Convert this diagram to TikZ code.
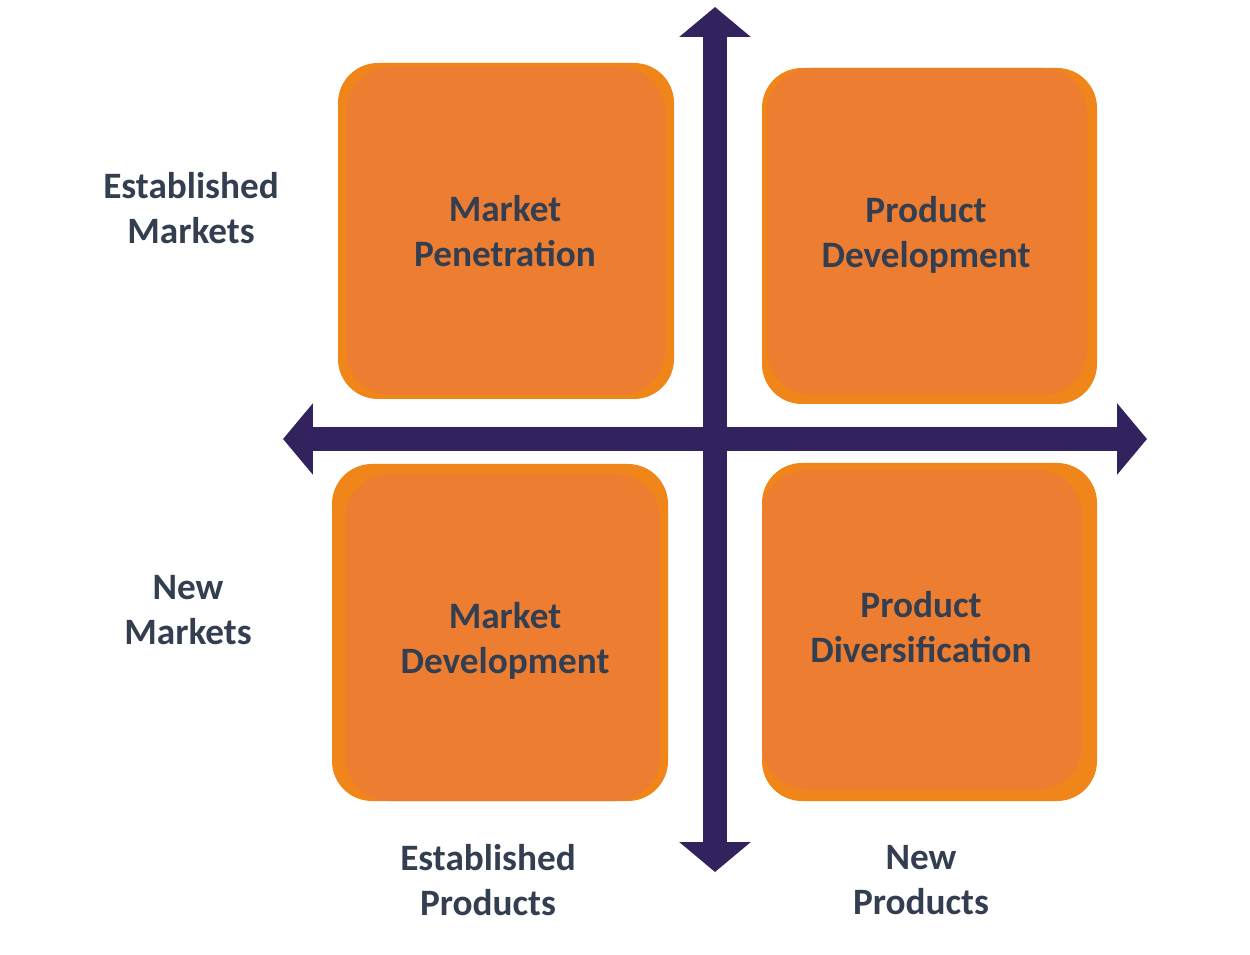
\documentclass[tikz,border=0pt]{standalone}
\usepackage{fontspec}
\setmainfont{Carlito}
\usepackage{tikz}
\usetikzlibrary{arrows.meta}
\definecolor{axisnavy}{RGB}{50,34,94}
\definecolor{rimorange}{RGB}{240,133,25}
\definecolor{fillorange}{RGB}{237,125,49}
\definecolor{labelslate}{RGB}{51,63,80}
\newcommand{\quadrant}[8]{
	\fill[rimorange, rounded corners=0.8cm] (#1,#2) rectangle (#3,#4);
	\fill[fillorange, rounded corners=0.9cm] (#5,#6) rectangle (#7,#8);
}
\tikzset{
	axis/.style={axisnavy, line width=0.48cm, {Triangle[length=0.6cm,width=1.4cm]}-{Triangle[length=0.6cm,width=1.4cm]}},
	caption/.style={text=labelslate, align=center, font=\bfseries\fontsize{21.2}{25.6}\selectfont, inner sep=0pt}
}

\begin{document}
\begin{tikzpicture}[x=0.02cm,y=-0.02cm]
	\useasboundingbox (0,0) rectangle (1250,955);
	\coordinate (W) at (283,439);
	\coordinate (E) at (1147,439);
	\coordinate (N) at (715,7);
	\coordinate (S) at (715,872);

	\quadrant{338}{63}{674}{399}{346}{67}{665}{395}
	\quadrant{762}{68}{1097}{404}{767}{68}{1087}{395}
	\quadrant{332}{464}{668}{801}{345}{474}{660}{801}
	\quadrant{762}{463}{1097}{801}{762}{470}{1082}{790}

	\node[caption] (pen) at (505,231.5) {Market\\Penetration};
	\node[caption] (pdev) at (926,234.5) {Product\\Development};
	\node[caption] (mdev) at (505,640.5) {Market\\Development};
	\node[caption] (div) at (921,627.5) {Product\\Diversification};

	\node[caption] (estm) at (191,208.5) {Established\\Markets};
	\node[caption] (newm) at (188,610.5) {New\\Markets};
	\node[caption] (estp) at (488,880.5) {Established\\Products};
	\node[caption] (newp) at (921,880.5) {New\\Products};

	\draw[axis] (W) -- (E);
	\draw[axis] (N) -- (S);
\end{tikzpicture}
\end{document}
